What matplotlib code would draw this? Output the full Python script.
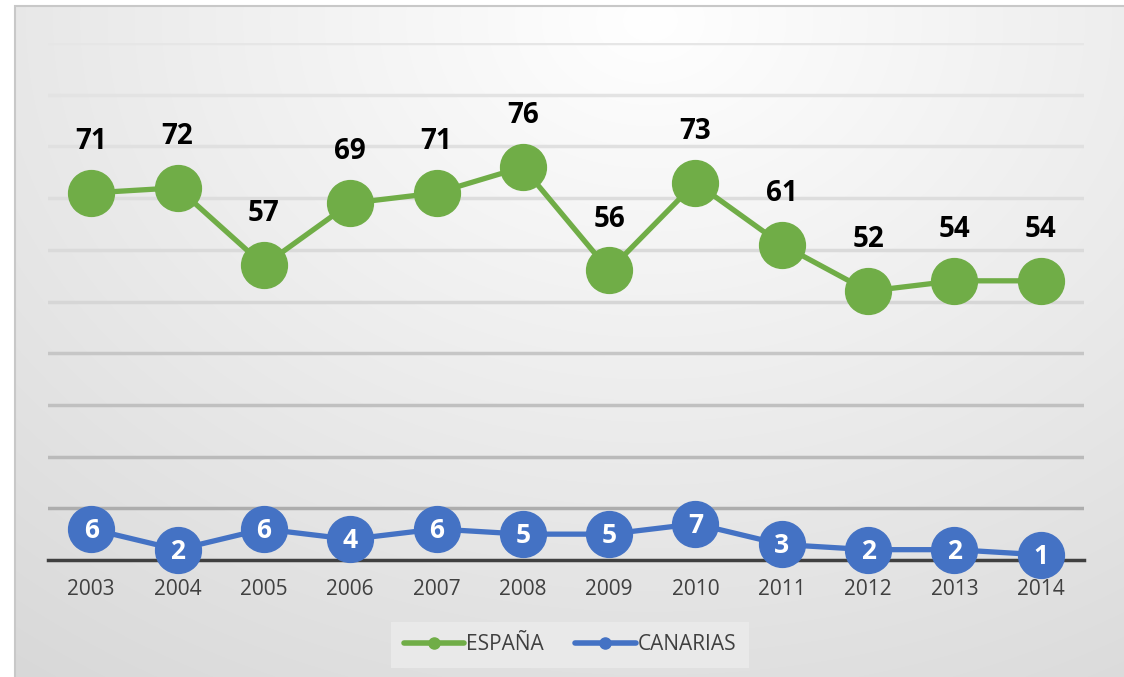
import numpy as np
import matplotlib.pyplot as plt
from matplotlib.lines import Line2D
from matplotlib.patches import Rectangle

plt.rcParams['font.family'] = ['Open Sans', 'DejaVu Sans']

years = ['2003', '2004', '2005', '2006', '2007', '2008',
         '2009', '2010', '2011', '2012', '2013', '2014']
espana = [71, 72, 57, 69, 71, 76, 56, 73, 61, 52, 54, 54]
canarias = [6, 2, 6, 4, 6, 5, 5, 7, 3, 2, 2, 1]

green = '#70ad47'
blue = '#4472c4'

W, H = 1124, 677
fig = plt.figure(figsize=(W / 100, H / 100), dpi=100)

# gradient background of the chart box
bx0, by0 = 15, 6
bg = fig.add_axes([bx0 / W, 0, 1 - bx0 / W, 1 - by0 / H], zorder=-10)
xx, yy = np.meshgrid(np.arange(bx0, W), np.arange(by0, H))
d = np.sqrt(((xx - 650) / 900.0) ** 2 + ((yy - 20) / 700.0) ** 2)
g = np.clip(1.0 - 0.13 * d, 0, 1)
bg.imshow(np.dstack([g, g, g]), aspect='auto', interpolation='bilinear')
bg.axis('off')
# border only visible on the left and top
fig.patches.append(Rectangle((bx0 / W, -0.05), 1.0, 1.05 - by0 / H,
                             transform=fig.transFigure, fill=False,
                             edgecolor='#c8c8c8', linewidth=1.5, zorder=-5))

ax = fig.add_axes([48 / W, 117 / H, (1084 - 48) / W, (560 - 43) / H])
ax.set_facecolor('none')
x = np.arange(len(years))
ax.set_xlim(-0.5, len(years) - 0.5)
ax.set_ylim(0, 100)

grid_cols = ['#adadad', '#bababa', '#c0c0c0', '#c6c6c6', '#d6d6d6',
             '#dadada', '#dddddd', '#e0e0e0', '#e3e3e3', '#e6e6e6']
for v, c in zip(range(10, 101, 10), grid_cols):
    ax.axhline(v, color=c, linewidth=2.5, zorder=1)

for s in ['top', 'right', 'left']:
    ax.spines[s].set_visible(False)
ax.spines['bottom'].set_color('#404040')
ax.spines['bottom'].set_linewidth(2.5)
ax.spines['bottom'].set_zorder(2)

ax.plot(x, espana, color=green, linewidth=3.8, marker='o', markersize=33,
        clip_on=False, zorder=3)
ax.plot(x, canarias, color=blue, linewidth=3.8, marker='o', markersize=33,
        clip_on=False, zorder=3)

for xi, v in zip(x, espana):
    ax.annotate(str(v), (xi, v), xytext=(0, 37), textcoords='offset points',
                ha='center', va='center', fontsize=20, fontweight='bold',
                color='black', zorder=5)
for xi, v in zip(x, canarias):
    ax.annotate(str(v), (xi, v), xytext=(0, -1), textcoords='offset points',
                ha='center', va='center', fontsize=19, fontweight='bold',
                color='white', zorder=5)

ax.set_xticks(x)
ax.set_xticklabels(years, fontsize=15, color='#404040')
ax.tick_params(axis='x', length=0, pad=14)
ax.set_yticks([])

handles = [Line2D([], [], color=green, linewidth=4, marker='o', markersize=8,
                  solid_capstyle='round'),
           Line2D([], [], color=blue, linewidth=4, marker='o', markersize=8,
                  solid_capstyle='round')]
leg = fig.legend(handles, ['ESPAÑA', 'CANARIAS'], loc='center',
                 bbox_to_anchor=(570 / W, 1 - 645 / H), ncol=2, fontsize=15,
                 frameon=True, facecolor='#e9e9e9', edgecolor='none',
                 framealpha=1, fancybox=False, handlelength=2.9,
                 handletextpad=0.1, columnspacing=1.5, borderpad=0.6,
                 borderaxespad=0)
for t in leg.get_texts():
    t.set_color('#404040')

plt.savefig('out.png', dpi=100)
